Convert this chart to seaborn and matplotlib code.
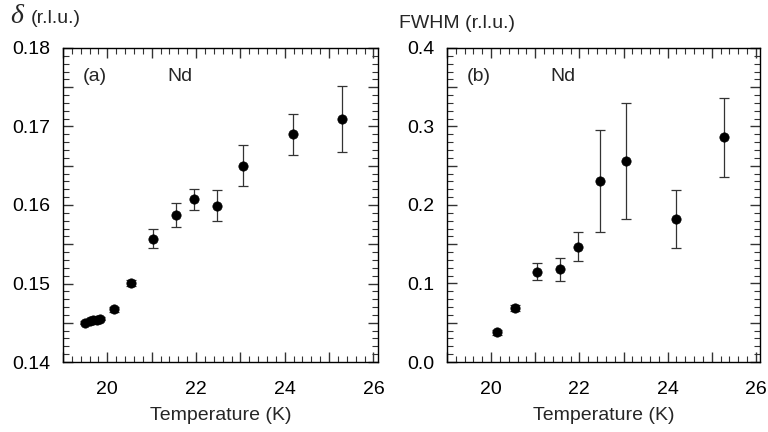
import numpy as np
import pandas as pd
import seaborn as sns
import matplotlib.pyplot as plt
from matplotlib.ticker import MultipleLocator, FuncFormatter

# panel (a): incommensurability delta vs temperature
temp_a = [19.50, 19.60, 19.68, 19.76, 19.84, 20.14, 20.54, 21.04, 21.55, 21.96, 22.47, 23.07, 24.18, 25.30]
delta = [0.1450, 0.1452, 0.1453, 0.1454, 0.1455, 0.1467, 0.1501, 0.1557, 0.1587, 0.1607, 0.1599, 0.1650, 0.1690, 0.1709]
delta_err = [0.0002, 0.0002, 0.0002, 0.0002, 0.0002, 0.0003, 0.0004, 0.0012, 0.0015, 0.0013, 0.0020, 0.0026, 0.0026, 0.0042]

# panel (b): peak width vs temperature
temp_b = [20.14, 20.54, 21.04, 21.56, 21.96, 22.47, 23.06, 24.20, 25.28]
fwhm = [0.038, 0.069, 0.115, 0.118, 0.147, 0.231, 0.256, 0.182, 0.286]
fwhm_err = [0.003, 0.004, 0.0105, 0.015, 0.0185, 0.065, 0.074, 0.037, 0.050]

sns.set_theme(style='ticks')
plt.rcParams['font.family'] = ['Liberation Sans', 'DejaVu Sans']

fig = plt.figure(figsize=(7.68, 4.32), dpi=100)
ax1 = fig.add_axes([0.082, 0.162, 0.410, 0.727])
ax2 = fig.add_axes([0.582, 0.162, 0.408, 0.727])

df_a = pd.DataFrame({'T': temp_a, 'y': delta, 'err': delta_err})
df_b = pd.DataFrame({'T': temp_b, 'y': fwhm, 'err': fwhm_err})


def every_other(step, fmt):
    # label only every second major tick
    def f(v, pos):
        k = round(v / step)
        return fmt.format(v) if k % 2 == 0 else ''
    return FuncFormatter(f)


for ax, df in [(ax1, df_a), (ax2, df_b)]:
    ax.errorbar(df['T'], df['y'], yerr=df['err'], fmt='none', ecolor='#333333',
                elinewidth=0.9, capsize=3.5, capthick=0.9, zorder=2)
    sns.scatterplot(data=df, x='T', y='y', ax=ax, color='black', s=45,
                    edgecolor='black', linewidth=0.5, zorder=3, legend=False)
    ax.set_xlim(19, 26.1)
    ax.xaxis.set_major_locator(MultipleLocator(1))
    ax.xaxis.set_minor_locator(MultipleLocator(0.2))
    ax.xaxis.set_major_formatter(every_other(1, '{:.0f}'))
    ax.tick_params(which='both', direction='in', top=True, right=True,
                   labelsize=14, colors='#333333', labelcolor='black')
    ax.tick_params(which='major', length=7, width=1.0)
    ax.tick_params(which='minor', length=4, width=0.8)
    ax.tick_params(axis='x', which='major', pad=14)
    ax.tick_params(axis='y', which='major', pad=9)
    ax.set_xlabel('Temperature (K)', fontsize=14, labelpad=6)
    ax.set_ylabel('')
    for s in ax.spines.values():
        s.set_linewidth(1.0)
        s.set_color('black')

ax1.set_ylim(0.14, 0.18)
ax1.yaxis.set_major_locator(MultipleLocator(0.005))
ax1.yaxis.set_minor_locator(MultipleLocator(0.001))
ax1.yaxis.set_major_formatter(every_other(0.005, '{:.2f}'))

ax2.set_ylim(0.0, 0.4)
ax2.yaxis.set_major_locator(MultipleLocator(0.05))
ax2.yaxis.set_minor_locator(MultipleLocator(0.01))
ax2.yaxis.set_major_formatter(every_other(0.05, '{:.1f}'))

ax1.text(0.063, 0.91, '(a)', transform=ax1.transAxes, fontsize=14, va='center')
ax1.text(0.33, 0.91, 'Nd', transform=ax1.transAxes, fontsize=14, va='center')
ax2.text(0.063, 0.91, '(b)', transform=ax2.transAxes, fontsize=14, va='center')
ax2.text(0.33, 0.91, 'Nd', transform=ax2.transAxes, fontsize=14, va='center')

fig.text(0.013, 0.962, 'δ', fontsize=20, style='italic',
         family=['Liberation Serif', 'DejaVu Serif'], va='center')
fig.text(0.04, 0.958, '(r.l.u.)', fontsize=14, va='center')
fig.text(0.519, 0.946, 'FWHM (r.l.u.)', fontsize=14, va='center')

fig.savefig('out.png', dpi=100)
